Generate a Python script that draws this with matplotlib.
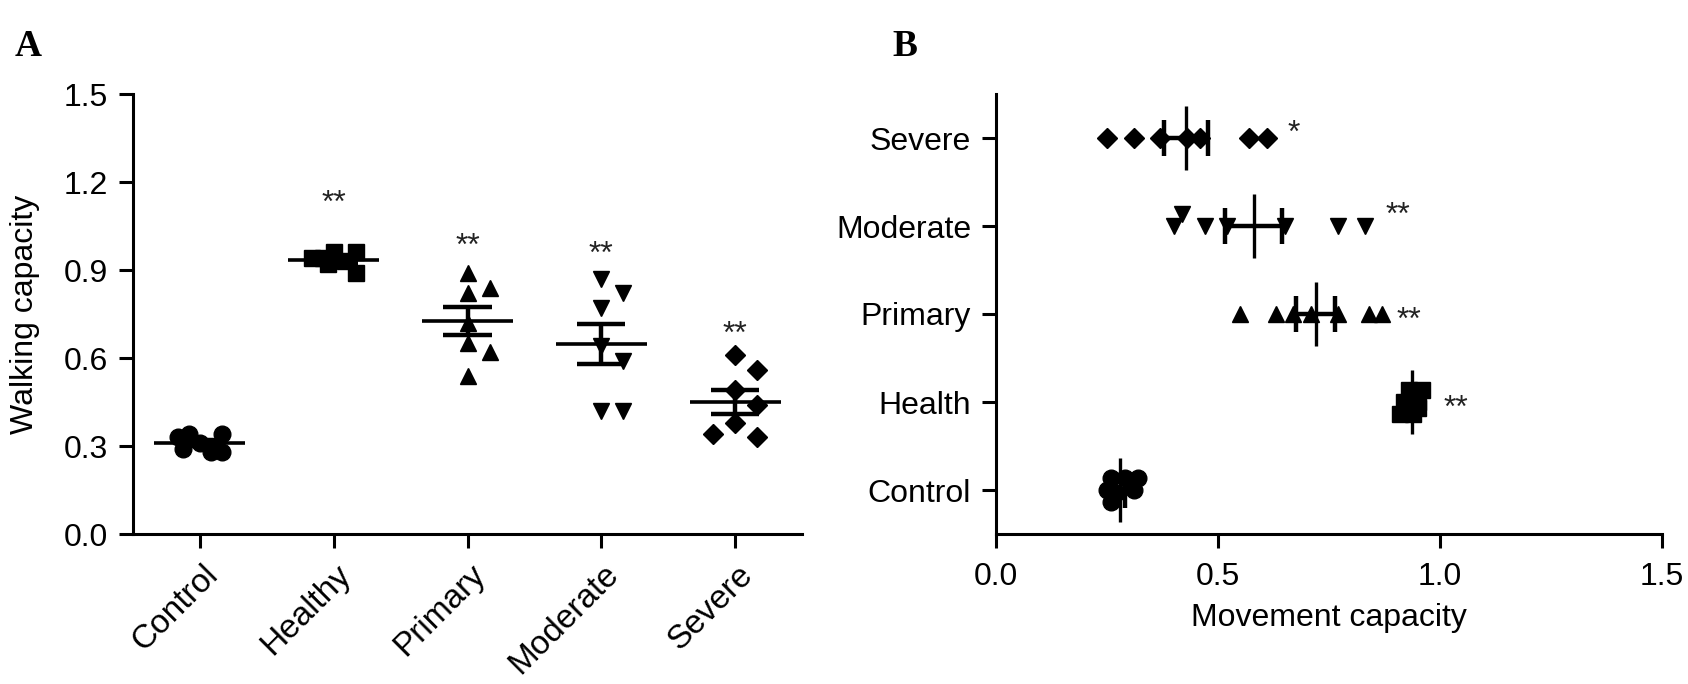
import numpy as np
import matplotlib
matplotlib.use("Agg")
import matplotlib.pyplot as plt
from matplotlib.transforms import ScaledTranslation

plt.rcParams['font.family'] = ['Liberation Sans', 'DejaVu Sans']

# panel A - walking capacity
walk_labels = ["Control", "Healthy", "Primary", "Moderate", "Severe"]
walk_control = [0.31, 0.34, 0.33, 0.34, 0.28, 0.29, 0.28]
walk_healthy = [0.96, 0.96, 0.94, 0.93, 0.92, 0.89, 0.94]
walk_primary = [0.89, 0.82, 0.84, 0.72, 0.65, 0.62, 0.54]
walk_moderate = [0.87, 0.82, 0.77, 0.64, 0.59, 0.42, 0.42]
walk_severe = [0.61, 0.56, 0.49, 0.44, 0.38, 0.33, 0.34]
walk_stars = ["", "**", "**", "**", "**"]
walk_star_y = [None, 1.125, 0.98, 0.95, 0.68]

# panel B - movement capacity (bottom to top)
move_labels = ["Control", "Health", "Primary", "Moderate", "Severe"]
move_control = [0.25, 0.26, 0.26, 0.27, 0.29, 0.31, 0.32]
move_health = [0.92, 0.95, 0.93, 0.96, 0.94, 0.91, 0.95]
move_primary = [0.55, 0.63, 0.67, 0.71, 0.77, 0.84, 0.87]
move_moderate = [0.40, 0.42, 0.47, 0.52, 0.65, 0.77, 0.83]
move_severe = [0.25, 0.31, 0.37, 0.43, 0.46, 0.57, 0.61]
move_stars = ["", "**", "**", "**", "*"]
move_star_x = [None, 1.035, 0.93, 0.905, 0.67]
move_star_y = [None, 0.92, 1.92, 3.11, 4.05]

markers = ["o", "s", "^", "v", "D"]
msizes = [12, 12, 12, 12, 10]


def swarm(values, val_px, cat_px, step, gap):
    # beeswarm kept within +-step: centre, right, left, otherwise the
    # least crowded spot in between (points may overlap like GraphPad)
    placed = []
    offs = []
    for v in values:
        pv = v * val_px

        def clearance(o):
            if not placed:
                return np.inf
            return min(np.hypot(pv - a, o - b) for a, b in placed)

        o = None
        for c in (0.0, step, -step):
            if clearance(c) >= gap:
                o = c
                break
        if o is None:
            grid = np.linspace(-step, step, 9)
            o = grid[np.argmax([clearance(c) for c in grid])]
        placed.append((pv, o))
        offs.append(o / cat_px)
    return np.array(offs)


def px_scale(ax):
    p0 = ax.transData.transform((0, 0))
    p1 = ax.transData.transform((1, 1))
    return p1[0] - p0[0], p1[1] - p0[1]


W, H = 1688, 684
fig = plt.figure(figsize=(W / 100, H / 100), dpi=100)
ax1 = fig.add_axes([133 / W, 150 / H, 669 / W, 440 / H])
ax2 = fig.add_axes([996 / W, 150 / H, 666 / W, 440 / H])

for ax in (ax1, ax2):
    for side in ("top", "right"):
        ax.spines[side].set_visible(False)
    for side in ("left", "bottom"):
        ax.spines[side].set_linewidth(2.2)
    ax.tick_params(width=2.2, length=10, labelsize=23, colors="black")

# ---- A ----
ax1.set_xlim(-0.5, 4.5)
ax1.set_ylim(0, 1.5)
sx, sy = px_scale(ax1)
walk_data = [walk_control, walk_healthy, walk_primary, walk_moderate, walk_severe]
for i, vals in enumerate(walk_data):
    vals = np.array(vals)
    offs = swarm(vals, sy, sx, step=22, gap=16)
    ax1.plot(i + offs, vals, linestyle="none", marker=markers[i], ms=msizes[i],
             color="black", zorder=3, clip_on=False)
    m = vals.mean()
    s = vals.std(ddof=1) / np.sqrt(len(vals))
    ax1.hlines(m, i - 0.34, i + 0.34, color="black", lw=2.6, zorder=4)
    ax1.hlines([m - s, m + s], i - 0.18, i + 0.18, color="black", lw=3.2, zorder=4)
    ax1.vlines(i, m - s, m + s, color="black", lw=3.2, zorder=4)
    if walk_stars[i]:
        ax1.text(i, walk_star_y[i], walk_stars[i], ha="center", va="center",
                 fontsize=23, color="#222222")

ax1.set_yticks(np.arange(0, 1.51, 0.3))
ax1.set_yticklabels([f"{t:.1f}" for t in np.arange(0, 1.51, 0.3)])
ax1.set_xticks(range(len(walk_labels)))
ax1.set_xticklabels(walk_labels, rotation=45, ha="right", va="top",
                    rotation_mode="anchor", fontsize=24)
ax1.tick_params(axis="x", pad=8)
ax1.tick_params(axis="y", pad=8)
shift = ScaledTranslation(2 / 100, 0, fig.dpi_scale_trans)
for lab in ax1.get_xticklabels():
    lab.set_transform(lab.get_transform() + shift)
ax1.set_ylabel("Walking capacity", fontsize=23)
ax1.yaxis.set_label_coords(-0.139, 0.5)

# ---- B ----
ax2.set_xlim(0, 1.5)
ax2.set_ylim(-0.5, 4.5)
sx, sy = px_scale(ax2)
move_data = [move_control, move_health, move_primary, move_moderate, move_severe]
for i, vals in enumerate(move_data):
    vals = np.array(vals)
    offs = swarm(vals, sx, sy, step=12, gap=10)
    ax2.plot(vals, i + offs, linestyle="none", marker=markers[i],
             ms=msizes[i], color="black", zorder=3, clip_on=False)
    m = vals.mean()
    s = vals.std(ddof=1) / np.sqrt(len(vals))
    ax2.vlines(m, i - 0.36, i + 0.36, color="black", lw=2.4, zorder=4)
    ax2.vlines([m - s, m + s], i - 0.2, i + 0.2, color="black", lw=3.2, zorder=4)
    ax2.hlines(i, m - s, m + s, color="black", lw=3.2, zorder=4)
    if move_stars[i]:
        ax2.text(move_star_x[i], move_star_y[i], move_stars[i], ha="center",
                 va="center", fontsize=23, color="#222222")

ax2.set_xticks([0, 0.5, 1.0, 1.5])
ax2.set_xticklabels(["0.0", "0.5", "1.0", "1.5"])
ax2.set_yticks(range(len(move_labels)))
ax2.set_yticklabels(move_labels)
ax2.tick_params(axis="x", pad=10)
ax2.tick_params(axis="y", pad=8)
ax2.set_xlabel("Movement capacity", fontsize=23, labelpad=8)

fig.text(28 / W, 1 - 46 / H, "A", fontsize=27, fontweight="bold",
         family="Liberation Serif", ha="center", va="center")
fig.text(905 / W, 1 - 46 / H, "B", fontsize=27, fontweight="bold",
         family="Liberation Serif", ha="center", va="center")

fig.savefig("out.png", dpi=100)
